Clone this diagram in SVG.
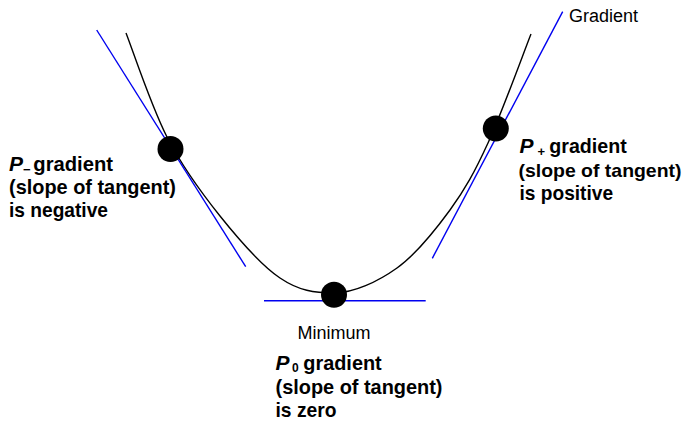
<svg xmlns="http://www.w3.org/2000/svg" width="687" height="433" viewBox="0 0 687 433">
<style>
.curve{fill:none;stroke:#000;stroke-width:1.4}
.tan{fill:none;stroke:#0000f0;stroke-width:1.4}
.dot{fill:#000}
.lbl{font-family:"Liberation Sans",Arial,sans-serif;font-weight:bold;font-size:21px;fill:#000}
.it{font-style:italic}
.sub{font-family:"Liberation Sans",Arial,sans-serif;font-weight:bold;font-size:13px;fill:#000}
.note{font-family:"Liberation Sans",Arial,sans-serif;font-size:18px;fill:#000}
</style>
<rect width="687" height="433" fill="#fff"/>
<g id="curve">
<path class="curve" d="M126,33 C132.8,50.3 151.3,106.5 167,137 C182.7,167.5 201.2,192.5 220,216 C238.8,239.5 261,265.2 280,278 C299,290.8 314.5,293 334,293 C353.5,293 377.7,281.8 397,268 C416.3,254.2 434.8,230.8 450,210 C465.2,189.2 474.5,172.3 488,143 C501.5,113.7 523.8,52.2 531,34"/>
</g>
<g id="connectors">
<line class="tan" x1="96.7" y1="30" x2="245.7" y2="266.7"/>
<line class="tan" x1="562.7" y1="11.7" x2="432.3" y2="258.3"/>
<line class="tan" x1="264" y1="300.7" x2="425.7" y2="300.7"/>
</g>
<g id="p-minus">
<circle class="dot" cx="170.5" cy="149" r="13"/>
<text class="lbl it" x="9" y="170.7">P</text>
<text class="sub" x="23" y="173.5">−</text>
<text class="lbl" x="33.3" y="170.7" textLength="79.7" lengthAdjust="spacingAndGlyphs">gradient</text>
<text class="lbl" x="9" y="194" textLength="167" lengthAdjust="spacingAndGlyphs">(slope of tangent)</text>
<text class="lbl" x="9" y="217" textLength="99" lengthAdjust="spacingAndGlyphs">is negative</text>
</g>
<g id="p-plus">
<circle class="dot" cx="495.8" cy="128.5" r="13"/>
<text class="lbl it" x="519.5" y="153.3">P</text>
<text class="sub" x="537.5" y="155.5">+</text>
<text class="lbl" x="549.3" y="153.3" textLength="77.4" lengthAdjust="spacingAndGlyphs">gradient</text>
<text class="lbl" x="518.5" y="176.5" style="font-size:19px" textLength="163" lengthAdjust="spacingAndGlyphs">(slope of tangent)</text>
<text class="lbl" x="519.5" y="199.5" textLength="93.6" lengthAdjust="spacingAndGlyphs">is positive</text>
</g>
<g id="p-zero">
<circle class="dot" cx="334" cy="294.7" r="13"/>
<text class="lbl it" x="275.5" y="370">P</text>
<text class="sub" x="292" y="371.7" style="font-size:12px">0</text>
<text class="lbl" x="303.3" y="370" textLength="78.4" lengthAdjust="spacingAndGlyphs">gradient</text>
<text class="lbl" x="275.5" y="393.5" textLength="167" lengthAdjust="spacingAndGlyphs">(slope of tangent)</text>
<text class="lbl" x="275.5" y="416.7" textLength="61" lengthAdjust="spacingAndGlyphs">is zero</text>
</g>
<g id="gradient-label">
<text class="note" x="569" y="22">Gradient</text>
</g>
<g id="minimum-label">
<text class="note" x="297.5" y="339.3">Minimum</text>
</g>
</svg>
